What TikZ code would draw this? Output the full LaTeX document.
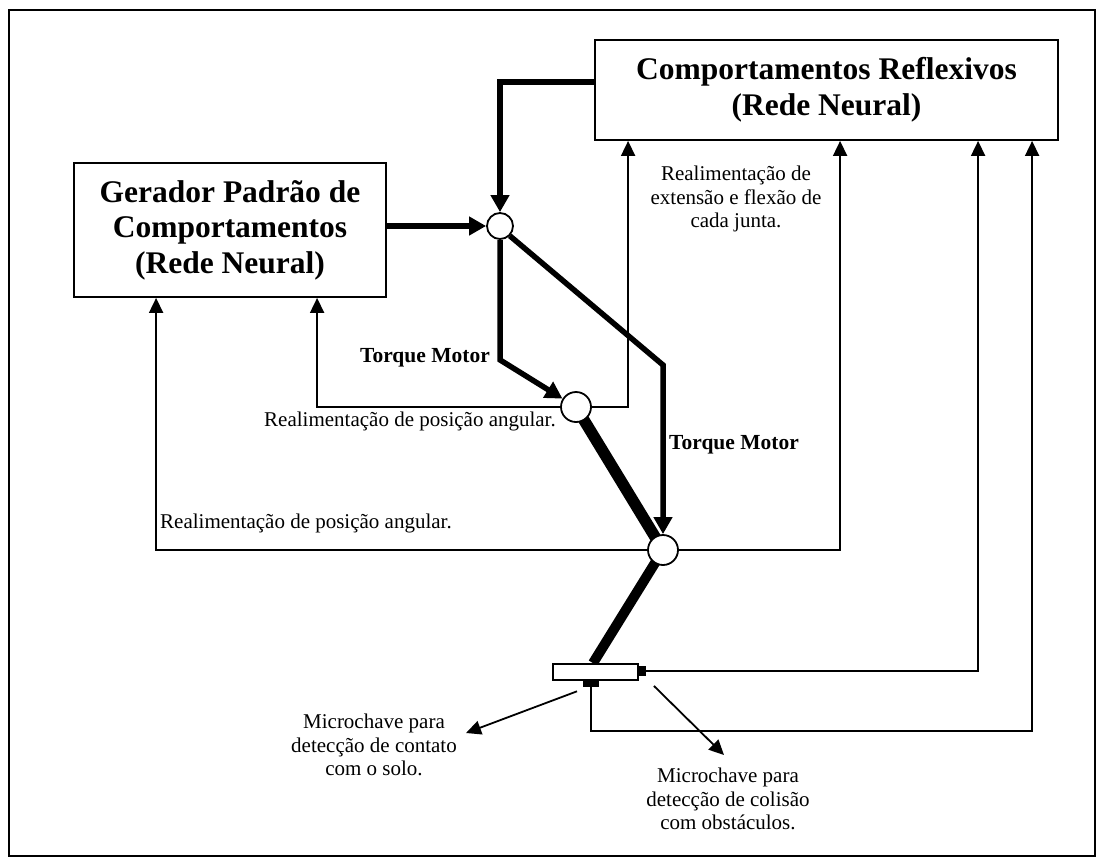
\documentclass[tikz,border=0pt]{standalone}
\usepackage{fontspec}
\setmainfont{Liberation Serif}
\usetikzlibrary{arrows.meta}
\pgfdeclarelayer{bg}
\pgfsetlayers{bg,main}
\begin{document}
\begin{tikzpicture}[x=1pt,y=-1pt,
  thinln/.style={line width=1.8pt},
  thickln/.style={line width=5.5pt},
  thintip/.style={-{Triangle[length=15pt,width=14pt]}},
  thicktip/.style={-{Triangle[length=17pt,width=18pt]}},
  bigbox/.style={draw,line width=1.8pt,inner sep=0pt,align=center,font=\fontsize{31.5}{35.5}\selectfont\bfseries},
  joint/.style={circle,draw,line width=1.8pt,fill=white,inner sep=0pt},
  lbl/.style={font=\fontsize{21}{23.5}\selectfont,align=center,inner sep=0pt},
  blbl/.style={font=\fontsize{21.5}{24}\selectfont\bfseries,inner sep=0pt}]
\useasboundingbox (0,0) rectangle (1103,863);
\draw[line width=2.6pt] (9,10) rectangle (1095,856);

% boxes
\node[bigbox,minimum width=463pt,minimum height=100pt] (R) at (826.5,90) {Comportamentos Reflexivos\\(Rede Neural)};
\node[bigbox,minimum width=312pt,minimum height=134pt] (G) at (230,230) {Gerador Padr\~ao de\\Comportamentos\\(Rede Neural)};

% joints
\node[joint,minimum size=26pt] (C1) at (500,226) {};
\node[joint,minimum size=30pt] (C2) at (576,407) {};
\node[joint,minimum size=30pt] (C3) at (663,550) {};

% sensor
\node[draw,line width=1.8pt,fill=white,minimum width=85pt,minimum height=16pt,inner sep=0pt] (S) at (595.5,672) {};
\node[fill=black,minimum width=7pt,minimum height=10pt,inner sep=0pt,anchor=west] (SR) at ([yshift=1pt]S.east) {};
\node[fill=black,minimum width=16pt,minimum height=6pt,inner sep=0pt,anchor=north] (SB) at ([xshift=-4.5pt]S.south) {};

% heavy links
\begin{pgfonlayer}{bg}
\draw[line width=11.5pt] (C2.center) -- (C3.center);
\draw[line width=10pt] (C3.center) -- ([xshift=-2.5pt]S.north);
\end{pgfonlayer}

% thick motor torque paths
\draw[thickln,thicktip] ([yshift=8pt]R.west) -| (C1.north);
\draw[thickln,thicktip] (G.east |- C1.west) -- (C1.west);
\draw[thickln,thicktip] (C1.south) -- ++(0,120) -- (C2);
\draw[thickln,thicktip] (C1.south east) -- (663,365) -- (C3.north);

% thin feedback paths
\draw[thinln,thintip] (C2.east) -| ([xshift=34pt]R.south west);
\draw[thinln,thintip] (C2.west) -| ([xshift=244pt]G.south west);
\draw[thinln,thintip] (C3.west) -| ([xshift=83pt]G.south west);
\draw[thinln,thintip] (C3.east) -| ([xshift=246pt]R.south west);
\draw[thinln,thintip] (SR.east) -| ([xshift=384pt]R.south west);
\draw[thinln,thintip] (SB.south) -- ++(0,44) -| ([xshift=438pt]R.south west);

% pointers to microswitches
\coordinate (m1) at (466,733);
\coordinate (m2) at (724,755);
\draw[thinln,thintip] ([shift={(-14,4)}]SB.south) -- (m1);
\draw[thinln,thintip] ([shift={(15,5)}]S.south east) -- (m2);

% labels
\node[blbl] (t1) at (425,358) {Torque Motor};
\node[blbl,anchor=west] (t2) at (669,445) {Torque Motor};
\node[lbl] (f1) at (410,421) {Realimenta\c{c}\~ao de posi\c{c}\~ao angular.};
\node[lbl,anchor=west] (f2) at (160,523) {Realimenta\c{c}\~ao de posi\c{c}\~ao angular.};
\node[lbl] (f3) at (736,199) {Realimenta\c{c}\~ao de\\extens\~ao e flex\~ao de\\cada junta.};
\node[lbl] (s1) at (374,745) {Microchave para\\detec\c{c}\~ao de contato\\com o solo.};
\node[lbl] (s2) at (728,799) {Microchave para\\detec\c{c}\~ao de colis\~ao\\com obst\'aculos.};
\end{tikzpicture}
\end{document}
